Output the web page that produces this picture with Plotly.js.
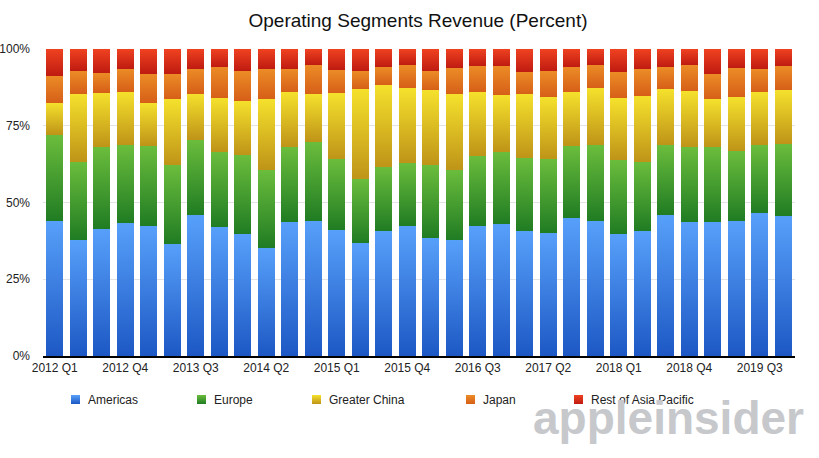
<!DOCTYPE html>
<html><head><meta charset="utf-8">
<script src="https://cdn.plot.ly/plotly-3.0.1.min.js"></script>
<style>html,body{margin:0;padding:0;background:#fff}#chart{width:819px;height:458px}</style>
</head><body><div id="chart"></div>
<script>
const quarters = [
  "2012 Q1","2012 Q2","2012 Q3","2012 Q4",
  "2013 Q1","2013 Q2","2013 Q3","2013 Q4",
  "2014 Q1","2014 Q2","2014 Q3","2014 Q4",
  "2015 Q1","2015 Q2","2015 Q3","2015 Q4",
  "2016 Q1","2016 Q2","2016 Q3","2016 Q4",
  "2017 Q1","2017 Q2","2017 Q3","2017 Q4",
  "2018 Q1","2018 Q2","2018 Q3","2018 Q4",
  "2019 Q1","2019 Q2","2019 Q3","2019 Q4"];
const tickLabels = ["2012 Q1","2012 Q4","2013 Q3","2014 Q2","2015 Q1","2015 Q4","2016 Q3","2017 Q2","2018 Q1","2018 Q4","2019 Q3"];
const yTicks = [0, 25, 50, 75, 100];
const seriesNames = ["Americas","Europe","Greater China","Japan","Rest of Asia Pacific"];
const americas = [44.0,37.8,41.4,43.3,42.3,36.5,45.9,42.0,39.7,35.2,43.6,44.0,41.0,36.8,40.7,42.3,38.4,37.8,42.3,43.0,40.7,40.1,45.0,44.0,39.7,40.7,45.9,43.6,43.6,44.0,46.6,45.6];
const europe = [28.0,25.5,26.7,25.4,26.2,25.7,24.6,24.6,25.8,25.5,24.5,25.8,23.2,20.9,20.9,20.6,23.8,22.9,23.0,23.6,23.9,24.1,23.5,24.7,24.3,22.6,22.8,24.5,24.5,22.8,22.1,23.6];
const greaterChina = [10.5,22.2,17.7,17.4,14.0,21.5,15.0,17.5,17.7,23.1,17.9,15.5,21.5,29.3,26.7,24.4,24.4,24.6,20.7,18.4,20.7,20.2,17.5,18.6,20.0,21.4,18.3,18.2,15.6,17.6,17.3,17.4];
const japan = [8.8,7.4,6.5,7.5,9.5,8.3,8.1,10.1,9.7,9.8,7.5,9.5,7.5,5.8,5.8,7.5,6.2,8.5,8.5,9.5,7.2,8.4,8.1,7.5,8.5,8.8,7.1,8.5,8.2,9.4,7.5,7.9];
const restOfAsiaPacific = [8.7,7.1,7.7,6.4,8.0,8.0,6.4,5.8,7.1,6.4,6.5,5.2,6.8,7.2,5.9,5.2,7.2,6.2,5.5,5.5,7.5,7.2,5.9,5.2,7.5,6.5,5.9,5.2,8.1,6.2,6.5,5.5];

const seriesValues = [americas, europe, greaterChina, japan, restOfAsiaPacific];
const gradTop = ["#57a0fa","#6bbd3c","#f5e12c","#ec8c26","#ef4220"];
const gradBottom = ["#1d58c4","#207c23","#bf9418","#d65f18","#bf1b11"];
const midColors = ["#3a7ce0","#45a030","#dbbb22","#e2761f","#d82f18"];

// layout geometry (pixels)
const W = 819, H = 458, L = 43, R = 795, T = 49, B = 356;
const px2x = p => (p - L) / (R - L);
const px2y = p => (B - p) / (B - T);

const traces = seriesValues.map((vals, i) => ({
  type: 'bar', x: quarters, y: vals, name: seriesNames[i],
  marker: {color: midColors[i], line: {width: 0}},
  hoverinfo: 'skip'
}));

// custom legend (positions in pixels)
const legendMarkerLeft = [71, 197, 312, 466, 574];
const legendY = 399.5;
const shapes = [];
const annotations = [];
seriesNames.forEach((n, i) => {
  const m = legendMarkerLeft[i];
  shapes.push({type: 'rect', xref: 'paper', yref: 'paper',
    x0: px2x(m), x1: px2x(m + 9), y0: px2y(legendY + 4.5), y1: px2y(legendY - 4.5),
    fillcolor: midColors[i], line: {width: 0}});
  annotations.push({xref: 'paper', yref: 'paper', x: px2x(m + 15), y: px2y(legendY),
    xanchor: 'left', yanchor: 'middle', showarrow: false, text: n,
    font: {family: 'Liberation Sans, Arial, sans-serif', size: 12, color: '#222'}});
});
annotations.push({xref: 'paper', yref: 'paper', x: px2x(806), y: px2y(418),
  xanchor: 'right', yanchor: 'middle', showarrow: false,
  text: '<b>apple</b><b>insider</b>',
  font: {family: 'Liberation Sans, Arial, sans-serif', size: 46, color: '#c6c8cb'}});

const layout = {
  width: W, height: H,
  margin: {l: L, r: W - R, t: T, b: H - B, pad: 0},
  paper_bgcolor: '#fff', plot_bgcolor: '#fff',
  font: {family: 'Liberation Sans, Arial, sans-serif', size: 12, color: '#222'},
  title: {text: 'Operating Segments Revenue (Percent)', x: (418 / W), xanchor: 'center',
    y: 1 - 20 / H, yanchor: 'middle', font: {size: 19, color: '#111'}},
  barmode: 'stack', bargap: 0.27,
  showlegend: false,
  xaxis: {type: 'category', categoryorder: 'array', categoryarray: quarters,
    tickvals: tickLabels, ticktext: tickLabels, ticks: '', showgrid: false,
    showline: true, linecolor: '#000', linewidth: 2, zeroline: false,
    tickfont: {size: 12, color: '#222'}, fixedrange: true},
  yaxis: {range: [0, 100], tickvals: yTicks, ticktext: yTicks.map(v => v + '%'),
    showgrid: true, gridcolor: '#e3e3e3', gridwidth: 1, zeroline: false, showline: false,
    ticks: '', ticklabelstandoff: 12, tickfont: {size: 12, color: '#222'}, fixedrange: true},
  shapes: shapes, annotations: annotations
};

Plotly.newPlot('chart', traces, layout, {staticPlot: true, displayModeBar: false}).then(gd => {
  const ns = 'http://www.w3.org/2000/svg';
  const svg = gd.querySelector('svg.main-svg');
  let defs = svg.querySelector('defs');
  if (!defs) { defs = document.createElementNS(ns, 'defs'); svg.insertBefore(defs, svg.firstChild); }
  gradTop.forEach((c, i) => {
    const lg = document.createElementNS(ns, 'linearGradient');
    lg.setAttribute('id', 'segGrad' + i);
    lg.setAttribute('x1', '0'); lg.setAttribute('y1', '0');
    lg.setAttribute('x2', '0'); lg.setAttribute('y2', '1');
    [[0, c], [1, gradBottom[i]]].forEach(([o, col]) => {
      const s = document.createElementNS(ns, 'stop');
      s.setAttribute('offset', o); s.setAttribute('stop-color', col);
      lg.appendChild(s);
    });
    defs.appendChild(lg);
  });
  gd.querySelectorAll('.barlayer .trace').forEach((tr, i) => {
    tr.querySelectorAll('path').forEach(p => { p.style.fill = 'url(#segGrad' + i + ')'; });
  });
  gd.querySelectorAll('.layer-above .shapelayer path').forEach((p, i) => {
    if (i < gradTop.length) p.style.fill = 'url(#segGrad' + i + ')';
  });
});
</script>
</body></html>
